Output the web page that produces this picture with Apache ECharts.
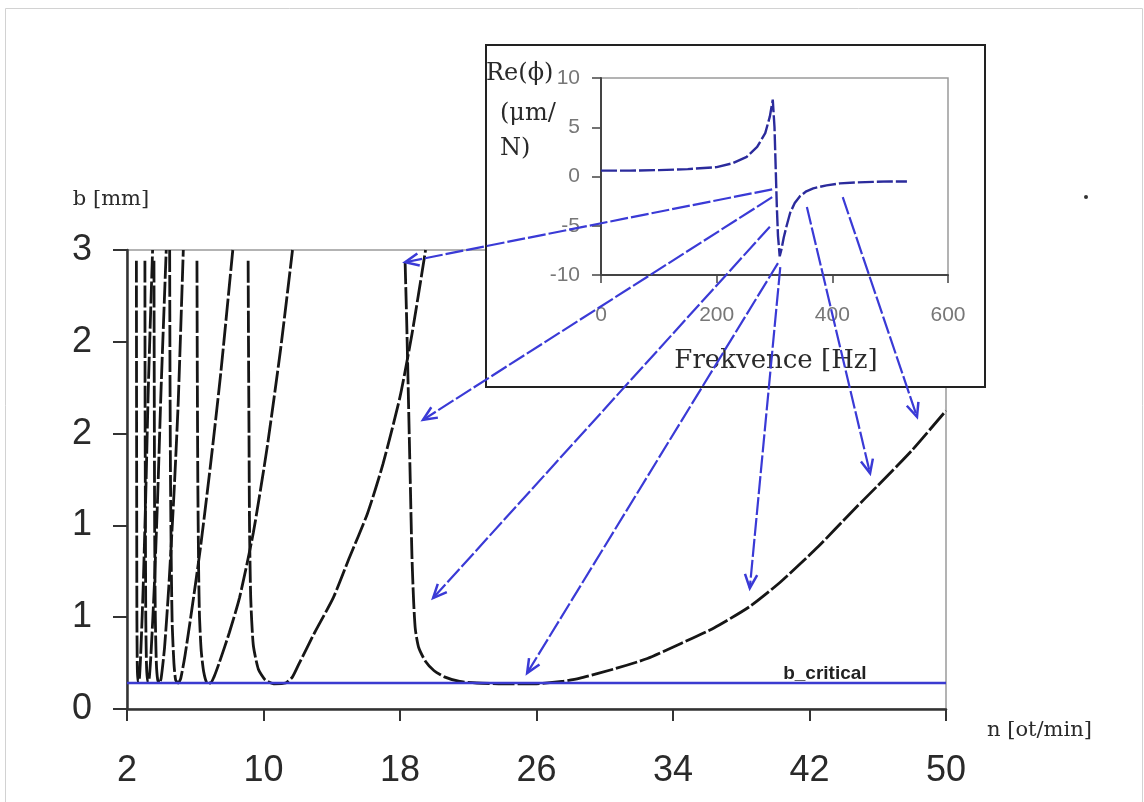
<!DOCTYPE html>
<html>
<head>
<meta charset="utf-8">
<script src="https://cdn.jsdelivr.net/npm/echarts@6/dist/echarts.min.js"></script>
<style>
html, body { margin: 0; padding: 0; background: #fff; }
#main { width: 1144px; height: 802px; }
</style>
</head>
<body>
<div id="main"></div>
<script>
// main chart: stability lobes, n [ot/min] vs b [mm]
var nTicks = [2, 10, 18, 26, 34, 42, 50];
var bCritical = 0.17;

var lobe0 = [[18.3,2.92],[18.4,2.5],[18.5,2.0],[18.6,1.5],[18.7,1.0],[18.8,0.7],[18.9,0.52],[19.1,0.4],[19.5,0.31],[20.0,0.25],[20.6,0.21],[21.5,0.18],[22.5,0.17],[24,0.165],[26,0.165],[27.5,0.18],[28.5,0.2],[30.5,0.26],[32.5,0.33],[34.5,0.43],[36.4,0.53],[38.5,0.67],[40.3,0.83],[42.5,1.06],[44.4,1.28],[46,1.46],[48,1.69],[50,1.95]];
var lobe1 = [[9.1,2.93],[9.12,2.4],[9.15,1.8],[9.18,1.2],[9.25,0.73],[9.4,0.42],[9.7,0.26],[10.1,0.19],[10.6,0.165],[11.3,0.17],[11.7,0.21],[12.1,0.3],[13,0.5],[14.1,0.73],[15,0.98],[16.1,1.28],[17,1.6],[18,2.04],[18.7,2.45],[19.5,3.0]];
var lobe2 = [[6.1,2.93],[6.12,2.2],[6.15,1.5],[6.2,0.9],[6.25,0.6],[6.35,0.38],[6.5,0.24],[6.7,0.17],[6.9,0.17],[7.1,0.21],[7.4,0.3],[8.0,0.5],[8.6,0.73],[9.4,1.15],[10.2,1.7],[11.0,2.35],[11.7,3.0]];
var lobe3 = [[4.5,3.0],[4.52,2.2],[4.55,1.5],[4.6,0.9],[4.65,0.55],[4.75,0.3],[4.85,0.19],[5.0,0.17],[5.15,0.2],[5.4,0.35],[5.8,0.65],[6.3,1.05],[6.9,1.6],[7.5,2.2],[8.2,3.0]];
var lobe4 = [[3.58,2.93],[3.6,2.0],[3.62,1.2],[3.66,0.6],[3.72,0.3],[3.8,0.19],[3.9,0.17],[4.0,0.2],[4.2,0.4],[4.45,0.8],[4.75,1.4],[5.0,2.0],[5.3,3.0]];
var lobe5 = [[3.05,2.93],[3.06,2.0],[3.08,1.2],[3.1,0.6],[3.14,0.3],[3.2,0.18],[3.27,0.18],[3.4,0.35],[3.6,0.8],[3.8,1.4],[4.0,2.1],[4.3,3.0]];
var lobe6 = [[2.55,2.93],[2.56,2.0],[2.57,1.2],[2.58,0.6],[2.6,0.3],[2.63,0.18],[2.7,0.18],[2.8,0.35],[2.95,0.8],[3.1,1.4],[3.25,2.1],[3.5,3.0]];

// inset: real part of FRF
var frfFreq = [0, 50, 100, 150, 200, 228, 252, 270, 284, 292, 297, 300, 302, 304, 306, 309, 312, 316, 321, 327, 335, 344, 355, 367, 390, 413, 440, 470, 500, 529];
var frfRe = [0.6, 0.6, 0.65, 0.75, 0.95, 1.35, 2.0, 3.0, 4.4, 6.1, 7.8, 5.0, 1.0, -3.0, -6.0, -8.1, -7.4, -6.2, -5.0, -3.7, -2.7, -2.0, -1.5, -1.2, -0.9, -0.7, -0.6, -0.55, -0.5, -0.5];

// arrows: from inset point [Hz, Re] to main point [n, b]
var arrowFrom = [[296, -1.3], [296, -2.1], [292, -5.1], [306, -8.8], [310, -9.2], [356, -3.1], [418, -2.1]];
var arrowTo = [[18.3, 2.92], [19.35, 1.89], [19.94, 0.725], [25.45, 0.235], [38.5, 0.79], [45.55, 1.54], [48.3, 1.91]];

var chart = echarts.init(document.getElementById('main'));

var lobes = [lobe0, lobe1, lobe2, lobe3, lobe4, lobe5, lobe6];
var series = [];
lobes.forEach(function (d) {
	series.push({
		type: 'line',
		xAxisIndex: 0,
		yAxisIndex: 0,
		data: d,
		showSymbol: false,
		silent: true,
		smooth: 0.2,
		lineStyle: { color: '#161616', width: 2.8, type: [22, 3] },
		z: 2
	});
});
series.push({
	type: 'line',
	xAxisIndex: 0,
	yAxisIndex: 0,
	data: [[2, bCritical], [50, bCritical]],
	showSymbol: false,
	silent: true,
	lineStyle: { color: '#3b3bd0', width: 2.5 },
	z: 3,
	markPoint: {
		symbol: 'rect',
		symbolSize: 0,
		silent: true,
		data: [{ coord: [42.9, bCritical] }],
		label: {
			show: true,
			formatter: 'b_critical',
			offset: [0, -9],
			color: '#222',
			fontFamily: 'Liberation Sans',
			fontWeight: 'bold',
			fontSize: 19
		}
	}
});
series.push({
	type: 'line',
	xAxisIndex: 1,
	yAxisIndex: 1,
	data: frfFreq.map(function (f, i) { return [f, frfRe[i]]; }),
	showSymbol: false,
	silent: true,
	lineStyle: { color: '#2b2b9c', width: 2.4, type: [16, 3] },
	z: 30
});

var option = {
	animation: false,
	grid: [
		{ left: 127, top: 250, width: 819, height: 459, show: true, borderColor: '#9a9a9a', borderWidth: 1.5, z: 0 },
		{ left: 601, top: 78, width: 347, height: 197, show: true, borderColor: '#9a9a9a', borderWidth: 1.5, backgroundColor: 'transparent', z: 25 }
	],
	xAxis: [
		{
			type: 'value', gridIndex: 0, min: 2, max: 50,
			axisLine: { lineStyle: { color: '#333', width: 2.5 } },
			axisTick: { customValues: nTicks, length: 12, lineStyle: { color: '#333', width: 2 } },
			axisLabel: { customValues: nTicks, margin: 44, fontFamily: 'Liberation Sans', fontSize: 36, color: '#2a2a2a' },
			splitLine: { show: false }
		},
		{
			type: 'value', gridIndex: 1, min: 0, max: 600, interval: 200, z: 30,
			axisLine: { onZero: false, lineStyle: { color: '#444', width: 2 } },
			axisTick: { length: 8, lineStyle: { color: '#444', width: 1.5 } },
			axisLabel: { margin: 30, fontFamily: 'Liberation Sans', fontSize: 21, color: '#777' },
			splitLine: { show: false }
		}
	],
	yAxis: [
		{
			type: 'value', gridIndex: 0, min: 0, max: 3, interval: 0.6,
			axisLine: { lineStyle: { color: '#333', width: 2.5 } },
			axisTick: { length: 14, lineStyle: { color: '#333', width: 2 } },
			axisLabel: { margin: 35, fontFamily: 'Liberation Sans', fontSize: 36, color: '#2a2a2a',
				formatter: function (v) { return Math.round(v); } },
			splitLine: { show: false }
		},
		{
			type: 'value', gridIndex: 1, min: -10, max: 10, interval: 5, z: 30,
			axisLine: { onZero: false, lineStyle: { color: '#444', width: 2 } },
			axisTick: { length: 9, lineStyle: { color: '#444', width: 1.5 } },
			axisLabel: { margin: 21, fontFamily: 'Liberation Sans', fontSize: 21, color: '#777' },
			splitLine: { show: false }
		}
	],
	series: series
};
chart.setOption(option);

// frames, axis names, inset box, inset texts and arrows
var serif = '"DejaVu Serif"';
var elements = [
	{ type: 'rect', z: 0, silent: true, shape: { x: 5.5, y: 8.5, width: 1137, height: 800 },
		style: { fill: 'none', stroke: '#d2d2d2', lineWidth: 1 } },
	{ type: 'circle', z: 0, silent: true, shape: { cx: 1086, cy: 197, r: 2 }, style: { fill: '#333' } },
	{ type: 'text', z: 5, silent: true, x: 111, y: 200,
		style: { text: 'b [mm]', font: '21px ' + serif, fill: '#2a2a2a', align: 'center', verticalAlign: 'middle' } },
	{ type: 'text', z: 5, silent: true, x: 987, y: 731,
		style: { text: 'n [ot/min]', font: '21px ' + serif, fill: '#2a2a2a', align: 'left', verticalAlign: 'middle' } },
	{ type: 'rect', z: 20, silent: true, shape: { x: 486, y: 45, width: 499, height: 342 },
		style: { fill: '#fff', stroke: '#222', lineWidth: 2 } },
	{ type: 'text', z: 31, silent: true, x: 486, y: 62,
		style: { text: 'Re(ϕ)', font: '24px ' + serif, fill: '#2a2a2a' } },
	{ type: 'text', z: 31, silent: true, x: 500, y: 102,
		style: { text: '(μm/', font: '24px ' + serif, fill: '#2a2a2a' } },
	{ type: 'text', z: 31, silent: true, x: 500, y: 137,
		style: { text: 'N)', font: '24px ' + serif, fill: '#2a2a2a' } },
	{ type: 'text', z: 31, silent: true, x: 776, y: 361,
		style: { text: 'Frekvence [Hz]', font: '26px ' + serif, fill: '#2a2a2a', align: 'center', verticalAlign: 'middle' } }
];

arrowFrom.forEach(function (p, i) {
	var s = chart.convertToPixel({ gridIndex: 1 }, p);
	var e = chart.convertToPixel({ gridIndex: 0 }, arrowTo[i]);
	var dx = e[0] - s[0], dy = e[1] - s[1];
	var len = Math.sqrt(dx * dx + dy * dy);
	var ux = dx / len, uy = dy / len;
	var hl = 15, a = 0.42;
	var c = Math.cos(a), sn = Math.sin(a);
	var p1 = [e[0] - hl * (ux * c - uy * sn), e[1] - hl * (uy * c + ux * sn)];
	var p2 = [e[0] - hl * (ux * c + uy * sn), e[1] - hl * (uy * c - ux * sn)];
	elements.push({ type: 'line', z: 40, silent: true,
		shape: { x1: s[0], y1: s[1], x2: e[0], y2: e[1] },
		style: { stroke: '#3a3ad6', lineWidth: 2.2, lineDash: [18, 3] } });
	elements.push({ type: 'polyline', z: 40, silent: true,
		shape: { points: [p1, e, p2] },
		style: { stroke: '#3a3ad6', lineWidth: 2.5, fill: 'none' } });
});

chart.setOption({ graphic: { elements: elements } });
</script>
</body>
</html>
